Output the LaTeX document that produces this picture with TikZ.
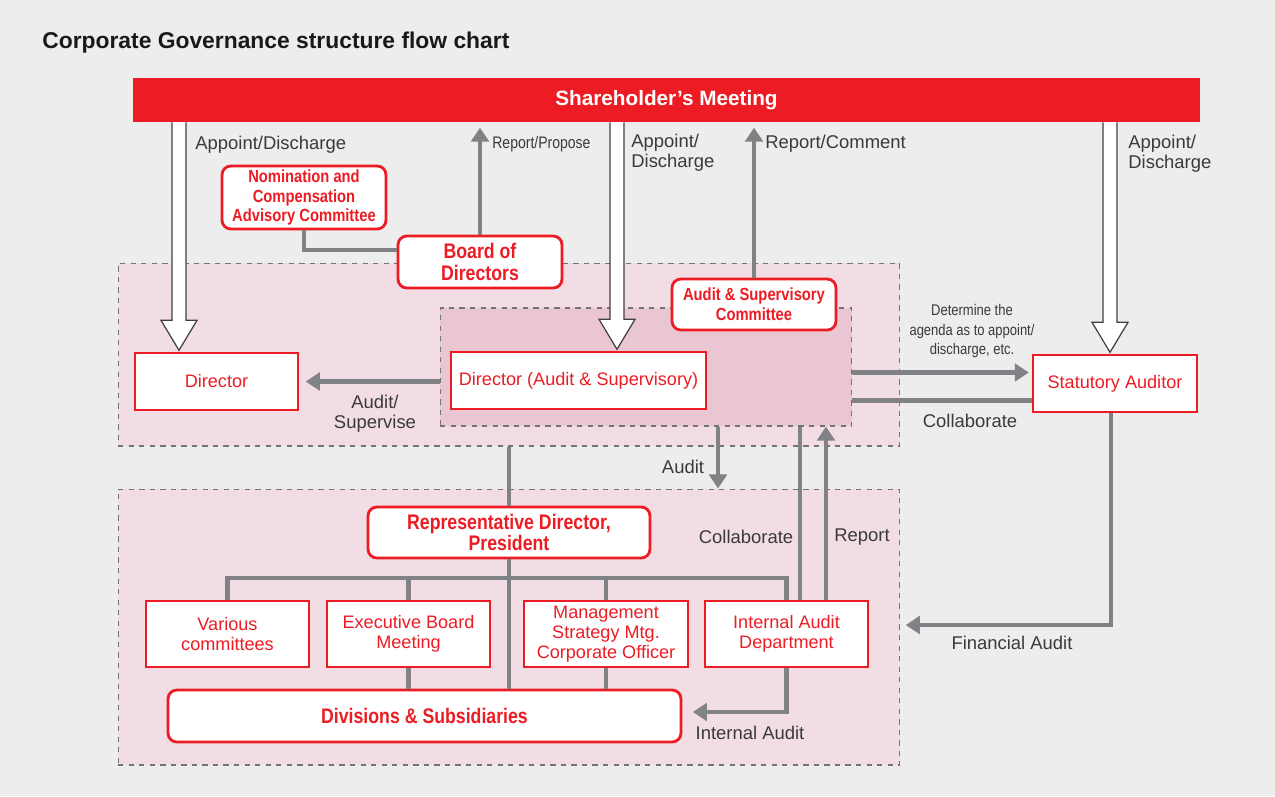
\documentclass[tikz,border=0pt]{standalone}
\usepackage{fontspec}
\setmainfont{Liberation Sans}
\setsansfont{Liberation Sans}
\newfontfamily\condfont[FakeStretch=0.84]{Liberation Sans}
\usetikzlibrary{arrows.meta,positioning,calc}

\definecolor{cgred}{HTML}{ED1C24}
\definecolor{cggray}{HTML}{808285}
\definecolor{cgpink}{HTML}{F2DDE4}
\definecolor{cgpinkdark}{HTML}{EAC6D3}
\definecolor{cgback}{HTML}{EDEDED}
\definecolor{cgtext}{HTML}{3A3A3A}

\tikzset{
  unitbox/.style={draw=cgred, line width=0.8pt, fill=white, text=cgred, align=center,
    inner sep=0pt, minimum width=3.26cm, minimum height=1.14cm,
    font=\fontsize{10.3}{11.4}\selectfont},
  keybox/.style={draw=cgred, line width=1.6pt, fill=white, rounded corners=5pt, text=cgred,
    align=center, inner sep=0pt, font=\condfont\bfseries\fontsize{12}{12.4}\selectfont},
  smallkey/.style={keybox, font=\condfont\bfseries\fontsize{10}{11.3}\selectfont},
  region/.style={draw=black!55, dashed, line width=0.6pt, inner sep=0pt},
  link/.style={draw=cggray, line width=2.8pt},
  flow/.style={link, -{Triangle[length=8pt,width=10pt]}},
  hollow/.style={draw=black!75, fill=white, line width=0.7pt, line join=miter},
  note/.style={text=cgtext, inner sep=0pt, align=center, font=\fontsize{10.5}{11.4}\selectfont},
  smallnote/.style={note, font=\condfont\fontsize{9.5}{11}\selectfont},
  tinynote/.style={note, font=\condfont\fontsize{8.8}{11}\selectfont},
}

% white double-outlined arrow from the bottom of #2 to the top of #3, at x of #1
\newcommand\hollowdown[3]{%
  \draw[hollow] ($(#1 |- #2.south)+(-7,0)$) -- ($(#1 |- #3.north)+(-7,-32)$)
    -- ($(#1 |- #3.north)+(-18,-32)$) -- ($(#1 |- #3.north)+(0,-2)$)
    -- ($(#1 |- #3.north)+(18,-32)$) -- ($(#1 |- #3.north)+(7,-32)$)
    -- ($(#1 |- #2.south)+(7,0)$);
}

\begin{document}
\begin{tikzpicture}[x=0.02cm, y=-0.02cm]
  % -- background -------------------------------------------------------------
  \fill[cgback] (0,0) rectangle (1275,796);
  \node[anchor=west, inner sep=0pt, text=black!90, font=\bfseries\fontsize{13}{15}\selectfont]
    (title) at (42,43) {Corporate Governance structure flow chart};

  % -- dashed areas -------------------------------------------------------------
  \node[region, fill=cgpink, minimum width=15.64cm, minimum height=3.66cm] (upper) at (509,354.5) {};
  \node[region, fill=cgpinkdark, minimum width=8.24cm, minimum height=2.36cm] (inner) at (646,367) {};
  \node[region, fill=cgpink, minimum width=15.64cm, minimum height=5.52cm] (lower) at (509,627) {};

  % -- shareholder's meeting -----------------------------------------------------
  \node[fill=cgred, text=white, inner sep=0pt, minimum width=21.34cm, minimum height=0.88cm,
    font=\bfseries\fontsize{11.8}{14}\selectfont] (meeting) at (666.5,100) {Shareholder’s Meeting};

  % -- boxes ---------------------------------------------------------------------
  \node[smallkey, minimum width=3.28cm, minimum height=1.26cm] (nomination) at (304,197.5)
    {Nomination and\\Compensation\\Advisory Committee};
  \node[keybox, minimum width=3.28cm, minimum height=1.04cm] (board) at (480,262) {Board of\\Directors};
  \node[smallkey, minimum width=3.28cm, minimum height=1.02cm] (committee) at (754,304.5)
    {Audit \& Supervisory\\Committee};
  \node[unitbox] (director) at (216.5,381.5) {Director};
  \node[unitbox, minimum width=5.1cm] (auditdir) at (578.5,380.5) {Director (Audit \& Supervisory)};
  \node[unitbox, minimum width=3.28cm] (statutory) at (1115,383.5) {Statutory Auditor};
  \node[keybox, minimum width=5.64cm, minimum height=1.02cm] (president) at (509,532.5)
    {Representative Director,\\President};
  \node[unitbox, minimum height=1.32cm] (various) at (227.5,634) {Various\\committees};
  \node[unitbox, minimum height=1.32cm] (executive) at (408.5,634) {Executive Board\\Meeting};
  \node[unitbox, minimum width=3.28cm, minimum height=1.32cm] (strategy) at (606,634)
    {Management\\Strategy Mtg.\\Corporate Officer};
  \node[unitbox, minimum height=1.32cm] (internal) at (786.5,634) {Internal Audit\\Department};
  \node[keybox, minimum width=10.26cm, minimum height=1.04cm] (divisions) at (424.5,716)
    {Divisions \& Subsidiaries};

  % -- appoint/discharge arrows ----------------------------------------------------
  \coordinate (xleft) at (179,0);
  \coordinate (xmid) at (617,0);
  \coordinate (xright) at (1110,0);
  \hollowdown{xleft}{meeting}{director}
  \hollowdown{xmid}{meeting}{auditdir}
  \hollowdown{xright}{meeting}{statutory}

  % -- gray connectors, top half --------------------------------------------------
  \draw[link] (nomination.south) |- ($(board.west)+(0,-12)$);
  \draw[flow, shorten >=3pt] (board.north) -- (board.north |- meeting.south);
  \draw[flow, shorten >=3pt] (committee.north) -- (committee.north |- meeting.south);
  \draw[flow, shorten >=4pt] (inner.west |- director.east) -- (director.east);
  \coordinate (agenda) at ($(statutory.west)+(0,-11)$);
  \coordinate (collab) at ($(statutory.west)+(0,17)$);
  \draw[flow, shorten >=2pt] (inner.east |- agenda) -- (agenda);
  \draw[link] (collab) -- (inner.east |- collab);

  % -- gray connectors, between the areas -----------------------------------------
  \coordinate (xaudit) at (718,0);
  \coordinate (xcollab) at (800,0);
  \coordinate (xreport) at (826,0);
  \draw[flow] (xaudit |- inner.south) -- (xaudit |- lower.north);
  \draw[link] (xcollab |- inner.south) -- (xcollab |- internal.north);
  \draw[flow] (xreport |- internal.north) -- (xreport |- inner.south);
  \draw[link] (president.north |- upper.south) -- (president.north);

  % -- gray connectors, bottom half -------------------------------------------------
  \coordinate (bus) at (0,578);
  \draw[link] (various.north) |- (internal.north |- bus) -- (internal.north);
  \foreach \unit in {executive, strategy} {
    \draw[link] (\unit.north) -- (\unit.north |- bus);
    \draw[link] (\unit.south) -- (\unit.south |- divisions.north);
  }
  \draw[link] (president.south) -- (president.south |- divisions.north);
  \draw[flow, shorten >=6pt] (internal.south) |- ($(divisions.east)+(0,-4)$);
  \coordinate (finaudit) at ($(internal.east)+(0,-9)$);
  \draw[flow, shorten >=3pt] ($(statutory.south)+(-4,0)$) |- (lower.east |- finaudit);

  % -- labels -----------------------------------------------------------------------
  \node[note, anchor=west] (lblappointl) at (195,145) {Appoint/Discharge};
  \node[smallnote, anchor=west] (lblpropose) at (492,144) {Report/Propose};
  \node[note, anchor=west, align=left] (lblappointm) at (631,153) {Appoint/\\Discharge};
  \node[note, anchor=west] (lblcomment) at (765,144) {Report/Comment};
  \node[note, anchor=west, align=left] (lblappointr) at (1128,154) {Appoint/\\Discharge};
  \node[tinynote] (lblagenda) at (972,331) {Determine the\\agenda as to appoint/\\discharge, etc.};
  \node[note] (lblsupervise) at (375,414) {Audit/\\Supervise};
  \node[note] (lblcollabr) at (970,421) {Collaborate};
  \node[note] (lblaudit) at (683,467) {Audit};
  \node[note] (lblcollabm) at (746,537) {Collaborate};
  \node[note] (lblreport) at (862,537) {Report};
  \node[note] (lblinternal) at (750,733) {Internal Audit};
  \node[note] (lblfinancial) at (1012,643) {Financial Audit};
\end{tikzpicture}
\end{document}
